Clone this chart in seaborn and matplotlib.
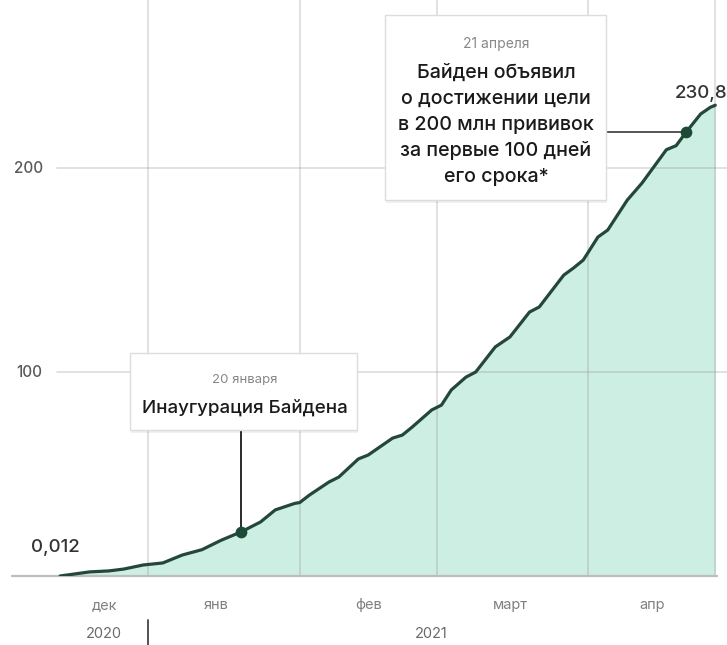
import numpy as np
import pandas as pd
import matplotlib
matplotlib.use("Agg")
import matplotlib.pyplot as plt
import seaborn as sns
from matplotlib.patches import FancyBboxPatch
from matplotlib.transforms import blended_transform_factory

# ---- data (millions of vaccine doses administered, cumulative) ----
dates = ["2020-12-14", "2020-12-20", "2020-12-24", "2020-12-27", "2020-12-31",
         "2021-01-04", "2021-01-08", "2021-01-12", "2021-01-16", "2021-01-18",
         "2021-01-20", "2021-01-24", "2021-01-27", "2021-01-31", "2021-02-01",
         "2021-02-03", "2021-02-07", "2021-02-09", "2021-02-13", "2021-02-15",
         "2021-02-20", "2021-02-22", "2021-02-24", "2021-02-28", "2021-03-02",
         "2021-03-04", "2021-03-07", "2021-03-09", "2021-03-13", "2021-03-16",
         "2021-03-20", "2021-03-22", "2021-03-27", "2021-03-29", "2021-03-31",
         "2021-04-03", "2021-04-05", "2021-04-09", "2021-04-12", "2021-04-17",
         "2021-04-19", "2021-04-21", "2021-04-24", "2021-04-26", "2021-04-27"]
values = [0.012, 2.0, 2.5, 3.4, 5.4,
          6.4, 10.3, 12.9, 17.6, 19.6,
          21.6, 26.5, 32.4, 35.6, 36.0,
          39.7, 46.1, 48.5, 57.4, 59.3,
          67.6, 69.1, 73.0, 81.4, 83.8,
          91.2, 97.5, 100.0, 112.3, 117.2,
          129.4, 131.9, 147.5, 151.0, 154.9,
          166.2, 169.6, 184.3, 192.6, 209.0,
          211.0, 217.5, 226.5, 229.8, 230.8]

month_labels = ["дек", "янв", "фев", "март", "апр"]
month_centers = ["2020-12-23", "2021-01-15", "2021-02-15", "2021-03-16", "2021-04-14"]
month_starts = ["2021-01-01", "2021-02-01", "2021-03-01", "2021-04-01"]
year_labels = ["2020", "2021"]
year_centers = ["2020-12-23", "2021-02-28"]
year_break = "2021-01-01"
y_ticks = [100, 200]
y_tick_labels = ["100", "200"]

event1_date = "2021-01-20"
event1_value = 21.6
event1_title = "20 января"
event1_text = "Инаугурация Байдена"
event2_date = "2021-04-21"
event2_value = 217.5
event2_title = "21 апреля"
event2_text = ["Байден объявил", "о достижении цели", "в 200 млн прививок",
               "за первые 100 дней", "его срока*"]
start_label = "0,012"
end_label = "230,8"

df = pd.DataFrame({"date": pd.to_datetime(dates), "value": values})

# ---- style ----
sns.set_theme(style="white")
plt.rcParams["font.family"] = ["Inter", "DejaVu Sans"]

W, H = 727, 645
fig = plt.figure(figsize=(W / 100, H / 100), dpi=100)
ax = fig.add_axes([0, (H - 576) / H, 1, 576 / H])

LINE = "#25473b"
FILL = "#cdeee2"

t0 = pd.Timestamp("2020-12-14")
ax.set_xlim(t0 - pd.Timedelta(days=12.3), t0 + pd.Timedelta(days=136.4))
ax.set_ylim(0, 282.4)
for s in ax.spines.values():
    s.set_visible(False)
ax.set_xticks([])
ax.set_yticks([])
ax.set_facecolor("white")

# fill + line
ax.fill_between(df["date"], 0, df["value"], color=FILL, lw=0, zorder=1)
sns.lineplot(data=df, x="date", y="value", ax=ax, color=LINE, lw=2.3, zorder=4)
ax.lines[-1].set_solid_joinstyle("round")
ax.set_xlabel("")
ax.set_ylabel("")

# grid
for m in month_starts + [dates[-1]]:
    ax.axvline(pd.Timestamp(m), color="#8f8f8f", alpha=0.32, lw=1.2, zorder=2)
for yv in y_ticks:
    ax.axhline(yv, xmin=57 / W, xmax=1, color="#8f8f8f", alpha=0.32, lw=1.2, zorder=2)
ax.axhline(0, xmin=12 / W, xmax=717 / W, color="#bdbdbd", lw=1.6, zorder=3, clip_on=False)

# y tick labels
for yv, lab in zip(y_ticks, y_tick_labels):
    ax.text(29 / W, yv, lab, transform=blended_transform_factory(ax.transAxes, ax.transData),
            ha="center", va="center", fontsize=11, color="#5a5a5a", fontweight="medium")

# month & year labels
bt = blended_transform_factory(ax.transData, fig.transFigure)
for d, lab in zip(month_centers, month_labels):
    ax.text(pd.Timestamp(d), 1 - 605 / H, lab, transform=bt, ha="center", va="center",
            fontsize=10.5, color="#808080")
for d, lab in zip(year_centers, year_labels):
    ax.text(pd.Timestamp(d), 1 - 634 / H, lab, transform=bt, ha="center", va="center",
            fontsize=10.5, color="#6a6a6a")
ax.plot([pd.Timestamp(year_break)] * 2, [1 - 620 / H, 1 - 645 / H], transform=bt,
        color="#444444", lw=1.3, clip_on=False)

# start/end value labels
fig.text(31 / W, 1 - 548 / H, start_label, ha="left", va="center", fontsize=13.5,
         color="#333333", fontweight="medium")
fig.text(727 / W, 1 - 93 / H, end_label, ha="right", va="center", fontsize=13.5,
         color="#333333", fontweight="medium")


def box(x0, y0, x1, y1):
    sh = FancyBboxPatch((x0 / W + 0.002, 1 - (y1 + 3) / H), (x1 - x0) / W, (y1 - y0) / H,
                        boxstyle="square,pad=0", transform=fig.transFigure,
                        facecolor="#000000", alpha=0.06, edgecolor="none", zorder=8)
    b = FancyBboxPatch((x0 / W, 1 - y1 / H), (x1 - x0) / W, (y1 - y0) / H,
                       boxstyle="square,pad=0", transform=fig.transFigure,
                       facecolor="white", edgecolor="#dcdcdc", lw=1.0, zorder=9)
    fig.patches.extend([sh, b])


# event 1
e1 = pd.Timestamp(event1_date)
ax.plot([e1, e1], [event1_value, (576 - 430) / 2.04], color="#2b2b2b", lw=1.4, zorder=5)
ax.scatter([e1], [event1_value], s=55, color="#1d4a37", zorder=6)
box(130, 353, 357, 430)
fig.text(245 / W, 1 - 380 / H, event1_title, ha="center", va="center", fontsize=9.5,
         color="#888888", zorder=10)
fig.text(245 / W, 1 - 408 / H, event1_text, ha="center", va="center", fontsize=13.5,
         color="#1a1a1a", zorder=10, fontweight="medium")

# event 2
e2 = pd.Timestamp(event2_date)
ax.plot([t0 + pd.Timedelta(days=(606 - 60) / 4.89), e2], [event2_value, event2_value],
        color="#555555", lw=1.4, zorder=5)
ax.scatter([e2], [event2_value], s=55, color="#1d4a37", zorder=6)
box(385, 15, 606, 200)
fig.text(496 / W, 1 - 44 / H, event2_title, ha="center", va="center", fontsize=10,
         color="#888888", zorder=10)
for i, line in enumerate(event2_text):
    fig.text(496 / W, 1 - (73 + 26 * i) / H, line, ha="center", va="center", fontsize=14.2,
             color="#1a1a1a", zorder=10, fontweight="medium")

fig.savefig("out.png", dpi=100)
